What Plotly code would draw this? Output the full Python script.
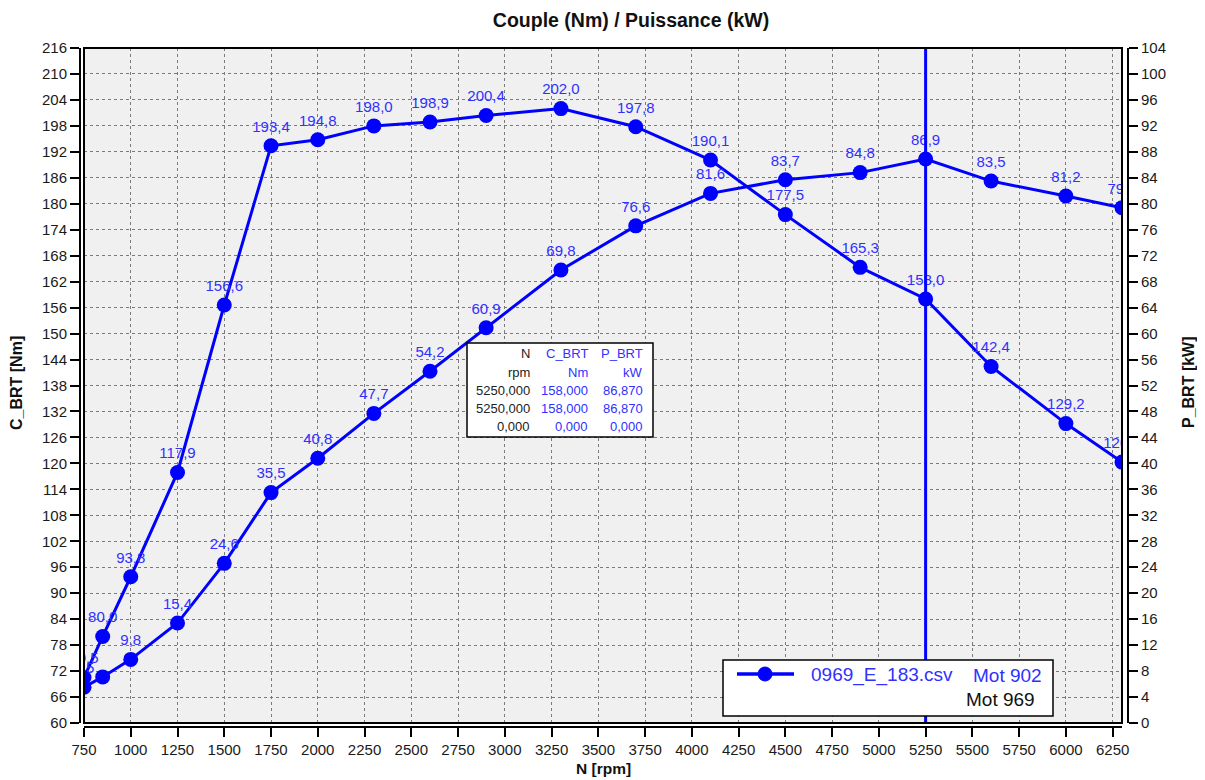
import plotly.graph_objects as go

# ---- data ----
rpm = [750, 850, 1000, 1250, 1500, 1750, 2000, 2300, 2600, 2900, 3300,
       3700, 4100, 4500, 4900, 5250, 5600, 6000, 6300]
torque_nm = [70.5, 80.0, 93.8, 117.9, 156.6, 193.4, 194.8, 198.0, 198.9, 200.4, 202.0,
             197.8, 190.1, 177.5, 165.3, 158.0, 142.4, 129.2, 120.3]
power_kw = [5.5, 7.1, 9.8, 15.4, 24.6, 35.5, 40.8, 47.7, 54.2, 60.9, 69.8,
            76.6, 81.6, 83.7, 84.8, 86.9, 83.5, 81.2, 79.4]
cursor_rpm = 5250
table_header = ["N", "C_BRT", "P_BRT"]
table_units = ["rpm", "Nm", "kW"]
table_rows = [["5250,000", "158,000", "86,870"],
              ["5250,000", "158,000", "86,870"],
              ["0,000", "0,000", "0,000"]]
legend_file = "0969_E_183.csv"
legend_mot1 = "Mot 902"
legend_mot2 = "Mot 969"

def fmt(v):
    return f"{v:.1f}".replace(".", ",")

torque_labels = [fmt(v) for v in torque_nm]
power_labels = [fmt(v) for v in power_kw]
power_labels[1] = ""  # label hidden in the original (overlap)

OFF = 8  # page body margin
W, H = 1205 - OFF, 780 - OFF
ML, MR, MT, MB = 80 - OFF, 77, 48 - OFF, 53
PW, PH = W - ML - MR, H - MT - MB

def px(x):
    return (x - OFF - ML) / PW

def py(y):
    return (H - MB - (y - OFF)) / PH

FONT = "Liberation Sans, Arial, sans-serif"
BLUE = "#0000ff"
TXT_BLUE = "#3030ff"

fig = go.Figure()
marker = dict(size=15, color=BLUE)
fig.add_trace(go.Scatter(x=rpm, y=torque_nm, mode="lines+markers+text",
                         line=dict(color=BLUE, width=3), marker=marker,
                         text=torque_labels, textposition="top center",
                         textfont=dict(family=FONT, size=15, color=TXT_BLUE),
                         showlegend=False, cliponaxis=True, yaxis="y"))
fig.add_trace(go.Scatter(x=rpm, y=power_kw, mode="lines+markers+text",
                         line=dict(color=BLUE, width=3), marker=marker,
                         text=power_labels, textposition="top center",
                         textfont=dict(family=FONT, size=15, color=TXT_BLUE),
                         showlegend=False, cliponaxis=True, yaxis="y2"))

grid = dict(showgrid=True, gridcolor="#7a7a7a", gridwidth=1, griddash="3px,3px")
tickf = dict(family=FONT, size=15, color="#1a1a1a")

fig.update_layout(
    width=W, height=H,
    margin=dict(l=ML, r=MR, t=MT, b=MB),
    paper_bgcolor="white", plot_bgcolor="#f0f0f0",
    showlegend=False,
    title=dict(text="<b>Couple (Nm) / Puissance (kW)</b>", x=(631 - OFF) / W, xref="container",
               xanchor="center", y=1 - (20 - OFF) / H, yref="container", yanchor="middle",
               font=dict(family=FONT, size=19.5, color="#111")),
    xaxis=dict(range=[750, 6300], dtick=250, tick0=750, domain=[4 / PW, 1 - 6 / PW],
               anchor="free", position=0, showline=True, linecolor="black", linewidth=2,
               ticks="outside", ticklen=9, tickwidth=1.5, tickcolor="black",
               tickfont=tickf, zeroline=False, **grid),
    yaxis=dict(range=[60, 216], dtick=6, tick0=60, domain=[4 / PH, 1],
               anchor="free", position=0, showline=True, linecolor="black", linewidth=2,
               ticks="outside", ticklen=9, tickwidth=1.5, tickcolor="black",
               tickfont=tickf, zeroline=False, **grid),
    yaxis2=dict(range=[0, 104], dtick=4, tick0=0, overlaying="y", side="right",
                anchor="free", position=1, showline=True, linecolor="black", linewidth=2,
                ticks="outside", ticklen=9, tickwidth=1.5, tickcolor="black",
                tickfont=tickf, zeroline=False, showgrid=False),
)

shapes = []
# cursor line
shapes.append(dict(type="line", xref="x", yref="y domain", x0=cursor_rpm, x1=cursor_rpm,
                   y0=0, y1=1, line=dict(color=BLUE, width=3), layer="above"))
# frame
shapes.append(dict(type="rect", xref="x domain", yref="y domain", x0=0, x1=1, y0=0, y1=1,
                   line=dict(color="black", width=2), layer="above"))
# table box
shapes.append(dict(type="rect", xref="paper", yref="paper", x0=px(467), x1=px(653),
                   y0=py(437), y1=py(343), fillcolor="white",
                   line=dict(color="black", width=1.5), layer="above"))
# legend box
shapes.append(dict(type="rect", xref="paper", yref="paper", x0=px(723), x1=px(1053),
                   y0=py(716), y1=py(660), fillcolor="white",
                   line=dict(color="black", width=1.5), layer="above"))
shapes.append(dict(type="line", xref="paper", yref="paper", x0=px(737), x1=px(794),
                   y0=py(674), y1=py(674), line=dict(color=BLUE, width=3.5), layer="above"))
shapes.append(dict(type="circle", xref="paper", yref="paper", x0=px(758), x1=px(772),
                   y0=py(681), y1=py(667), fillcolor=BLUE, line=dict(color=BLUE, width=1),
                   layer="above"))
fig.update_layout(shapes=shapes)

ann = []
# axis titles
ann.append(dict(text="<b>C_BRT [Nm]</b>", xref="paper", yref="paper", x=px(16), y=py(383),
                textangle=-90, showarrow=False, font=dict(family=FONT, size=16, color="#111"),
                xanchor="center", yanchor="middle"))
ann.append(dict(text="<b>P_BRT [kW]</b>", xref="paper", yref="paper", x=px(1188), y=py(382),
                textangle=-90, showarrow=False, font=dict(family=FONT, size=16, color="#111"),
                xanchor="center", yanchor="middle"))
ann.append(dict(text="<b>N [rpm]</b>", xref="paper", yref="paper", x=px(603), y=py(768),
                showarrow=False, font=dict(family=FONT, size=15.5, color="#111"),
                xanchor="center", yanchor="middle"))
# table text
col_right = [532, 590, 645]
col_color = ["#222222", TXT_BLUE, TXT_BLUE]
all_rows = [table_header, table_units] + table_rows
row_y = [354, 372, 390, 408, 426]
for r, row in enumerate(all_rows):
    for c, t in enumerate(row):
        ann.append(dict(text=t, xref="paper", yref="paper", x=px(col_right[c]), y=py(row_y[r]),
                        xanchor="right", yanchor="middle", showarrow=False,
                        font=dict(family=FONT, size=13, color=col_color[c])))
# legend text
ann.append(dict(text=legend_file, xref="paper", yref="paper", x=px(809), y=py(675),
                xanchor="left", yanchor="middle", showarrow=False,
                font=dict(family=FONT, size=19, color=TXT_BLUE)))
ann.append(dict(text=legend_mot1, xref="paper", yref="paper", x=px(1044), y=py(675),
                xanchor="right", yanchor="middle", showarrow=False,
                font=dict(family=FONT, size=19, color=TXT_BLUE)))
ann.append(dict(text=legend_mot2, xref="paper", yref="paper", x=px(1037), y=py(699),
                xanchor="right", yanchor="middle", showarrow=False,
                font=dict(family=FONT, size=19, color="#111")))
fig.update_layout(annotations=ann)

fig.write_html("out.html")
